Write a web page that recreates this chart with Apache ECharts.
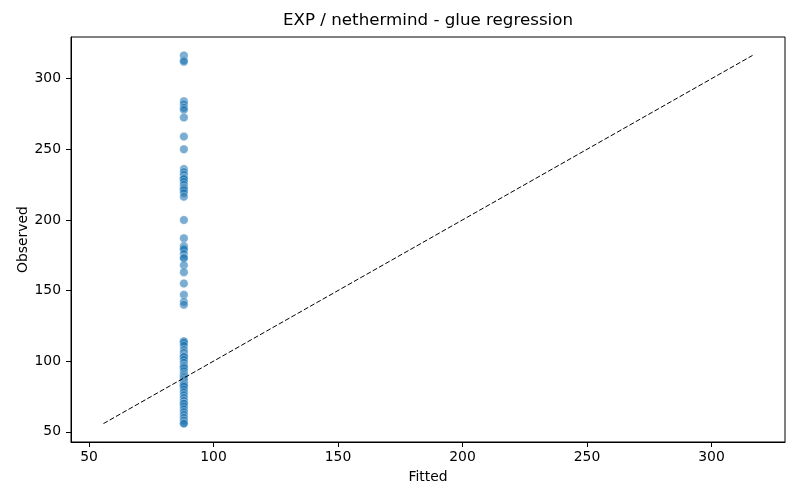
<!DOCTYPE html>
<html>
<head>
<meta charset="utf-8">
<script src="https://cdn.jsdelivr.net/npm/echarts@6/dist/echarts.min.js"></script>
<style>
  html, body { margin: 0; padding: 0; background: #fff; }
  #chart { width: 800px; height: 500px; }
</style>
</head>
<body>
<div id="chart"></div>
<script>
// every point sits at the same fitted value
const fitted = 88.1;
const observed = [
  316.5, 313, 312, 284, 282, 279.5, 278, 272.5, 259, 250,
  236, 234, 232, 230, 229, 229, 227, 225, 223, 222, 221, 219, 216.5,
  200, 187, 181.5, 180, 179, 176, 173, 173, 168, 163, 155, 147, 142, 140,
  114, 114, 113, 111, 108, 106, 104, 103, 103, 101, 99, 97, 96, 95, 93,
  91, 90, 89, 88, 87, 86, 85, 84, 83, 83, 82, 80, 78, 76, 74, 72, 70, 70,
  68, 66, 64, 62, 60, 58, 56, 55.8
];
const xTicks = [50, 100, 150, 200, 250, 300];
const yTicks = [50, 100, 150, 200, 250, 300];

const lo = Math.min(...observed);
const hi = Math.max(...observed);
const pad = (hi - lo) * 0.05;

const font = 'DejaVu Sans';
const myChart = echarts.init(document.getElementById('chart'));

function axis(name, gap, ticks) {
  return {
    type: 'value',
    min: lo - pad,
    max: hi + pad,
    name: name,
    nameLocation: 'middle',
    nameGap: gap,
    nameMoveOverlap: false,
    nameTextStyle: { color: '#000', fontSize: 13.9, fontFamily: font },
    splitLine: { show: false },
    axisLine: { show: true, onZero: false, lineStyle: { color: '#000', width: 1 } },
    axisTick: { show: true, length: 5, customValues: ticks, lineStyle: { color: '#000' } },
    axisLabel: { customValues: ticks, color: '#000', fontSize: 13.9, fontFamily: font, margin: 8 }
  };
}

const xAxis = axis('Fitted', 28, xTicks);
const yAxis = axis('Observed', 41, yTicks);
yAxis.axisLabel.margin = 10;

myChart.setOption({
  animation: false,
  title: {
    text: 'EXP / nethermind - glue regression',
    left: 428,
    top: 12,
    padding: 0,
    textAlign: 'center',
    textStyle: { color: '#000', fontSize: 16.7, fontWeight: 'normal', fontFamily: font }
  },
  grid: {
    left: 71, right: 15, top: 37, bottom: 58,
    show: true, borderColor: '#000', borderWidth: 1
  },
  xAxis: xAxis,
  yAxis: yAxis,
  series: [
    {
      type: 'scatter',
      symbolSize: 8.5,
      data: observed.map(v => [fitted, v]),
      itemStyle: { color: 'rgba(31,119,180,0.75)', borderColor: '#fff', borderWidth: 0.4 },
      z: 2
    },
    {
      type: 'line',
      data: [[lo, lo], [hi, hi]],
      symbol: 'none',
      lineStyle: { color: '#000', width: 1, type: [5, 2.2] },
      z: 3
    }
  ]
});
</script>
</body>
</html>
